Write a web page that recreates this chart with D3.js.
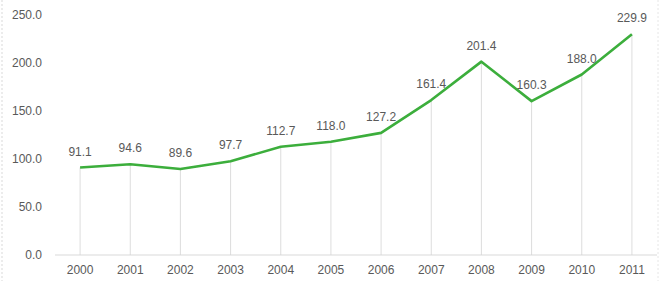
<!DOCTYPE html>
<html>
<head>
<meta charset="utf-8">
<script src="https://cdn.jsdelivr.net/npm/d3@7"></script>
<style>
  body { margin: 0; background: #fff; }
  text { font-family: "Liberation Sans", Arial, sans-serif; }
</style>
</head>
<body>
<div id="chart-area"></div>
<script>
var years = ["2000", "2001", "2002", "2003", "2004", "2005", "2006", "2007", "2008", "2009", "2010", "2011"];
var values = [91.1, 94.6, 89.6, 97.7, 112.7, 118.0, 127.2, 161.4, 201.4, 160.3, 188.0, 229.9];
var yTicks = [0, 50, 100, 150, 200, 250];

var W = 660, H = 281;

var svg = d3.select("#chart-area").append("svg")
    .attr("width", W)
    .attr("height", H);

// Scales
var x = d3.scaleBand().domain(years).range([55, 657]);
var y = d3.scaleLinear().domain([0, 250]).range([255, 15]);

var data = years.map((d, i) => { return {year: d, value: values[i]}; });

// faint frame lines at the edges
svg.append("line")
    .attr("x1", 2).attr("x2", 2).attr("y1", 0).attr("y2", H)
    .attr("stroke", "#d9d9d9").attr("stroke-dasharray", "2,2");
svg.append("line")
    .attr("x1", 658).attr("x2", 658).attr("y1", 0).attr("y2", H)
    .attr("stroke", "#e6e6e6").attr("stroke-dasharray", "2,2");

// Y axis labels
svg.append("g")
    .attr("transform", "translate(42,0)")
    .call(d3.axisLeft(y).tickValues(yTicks).tickFormat(d3.format(".1f")).tickSize(0).tickPadding(0))
    .call(g => g.select(".domain").remove())
    .selectAll("text")
    .attr("fill", "#595959")
    .attr("font-size", "12px");

// baseline
svg.append("line")
    .attr("x1", 55).attr("x2", 657)
    .attr("y1", y(0)).attr("y2", y(0))
    .attr("stroke", "#d9d9d9");

// X axis labels
svg.append("g")
    .attr("transform", "translate(0," + y(0) + ")")
    .call(d3.axisBottom(x).tickSize(0).tickPadding(10))
    .call(g => g.select(".domain").remove())
    .selectAll("text")
    .attr("fill", "#595959")
    .attr("font-size", "12px");

var cx = (d) => { return x(d.year) + x.bandwidth() / 2; };

// drop lines
svg.append("g").selectAll("line")
    .data(data)
    .enter().append("line")
    .attr("x1", cx).attr("x2", cx)
    .attr("y1", (d) => { return y(d.value); })
    .attr("y2", y(0))
    .attr("stroke", "#d4d4d4")
    .attr("stroke-width", 0.8);

// line
var line = d3.line()
    .x(cx)
    .y((d) => { return y(d.value); });

svg.append("path")
    .datum(data)
    .attr("fill", "none")
    .attr("stroke", "#3cae3c")
    .attr("stroke-width", 2.6)
    .attr("stroke-linejoin", "round")
    .attr("d", line);

// data labels
svg.append("g").selectAll("text")
    .data(data)
    .enter().append("text")
    .attr("x", cx)
    .attr("y", (d) => { return y(d.value) - 12; })
    .attr("text-anchor", "middle")
    .attr("fill", "#595959")
    .attr("font-size", "12px")
    .text((d) => { return d.value.toFixed(1); });
</script>
</body>
</html>
